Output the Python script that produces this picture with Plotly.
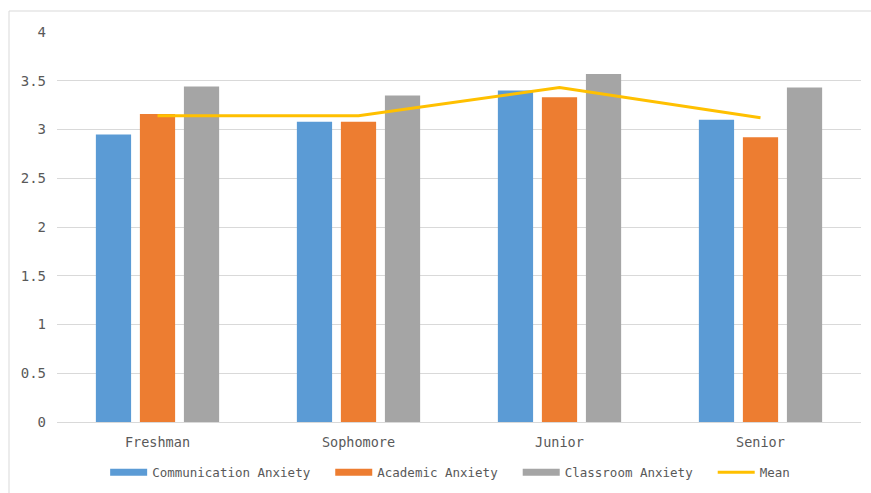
import plotly.graph_objects as go

categories = ["Freshman", "Sophomore", "Junior", "Senior"]
communication = [2.95, 3.08, 3.40, 3.10]
academic = [3.16, 3.08, 3.33, 2.92]
classroom = [3.44, 3.35, 3.57, 3.43]
mean_vals = [3.14, 3.14, 3.43, 3.12]

series_names = ["Communication Anxiety", "Academic Anxiety", "Classroom Anxiety"]
series_vals = [communication, academic, classroom]
colors = ["#5B9BD5", "#ED7D31", "#A5A5A5"]
mean_color = "#FFC000"

FONT = "DejaVu Sans Mono"
TXT = "#595959"
PAD = "\u00a0\u00a0"

fig = go.Figure()
for name, vals, c in zip(series_names, series_vals, colors):
    fig.add_trace(go.Bar(x=categories, y=vals, name=name, marker_color=c,
                         marker_line_width=0, showlegend=False))
fig.add_trace(go.Scatter(x=categories, y=mean_vals, mode="lines", name="Mean",
                         line=dict(color=mean_color, width=3), showlegend=False))
# legend entries
for name, c in zip(series_names, colors):
    fig.add_trace(go.Scatter(x=[None], y=[None], mode="lines", name=name + PAD,
                             line=dict(color=c, width=7)))
fig.add_trace(go.Scatter(x=[None], y=[None], mode="lines", name="Mean",
                         line=dict(color=mean_color, width=3)))

fig.update_layout(
    width=871, height=493,
    margin=dict(l=57, r=10, t=32, b=71, autoexpand=False),
    paper_bgcolor="white", plot_bgcolor="white",
    barmode="group", bargap=0.343, bargroupgap=0.2,
    font=dict(family=FONT, color=TXT, size=13),
    legend=dict(orientation="h", x=0.489, xanchor="center", y=-0.13, yanchor="middle",
                font=dict(family=FONT, size=12.5, color=TXT), itemwidth=37,
                traceorder="normal", tracegroupgap=0),
    xaxis=dict(showgrid=False, showline=True, linecolor="#D9D9D9", linewidth=1,
               tickfont=dict(family=FONT, size=13.5, color=TXT), ticks="",
               ticklabelstandoff=8),
    yaxis=dict(range=[0, 4], dtick=0.5, showgrid=True, gridcolor="#D9D9D9", gridwidth=1,
               zeroline=False, showline=False, ticks="",
               tickfont=dict(family=FONT, size=14, color=TXT), ticklabelstandoff=10),
    shapes=[dict(type="rect", xref="paper", yref="paper",
                 x0=(9 - 57) / 804, x1=1.2, y0=-0.2, y1=(422 - 11) / 390,
                 line=dict(color="#D9D9D9", width=1), layer="below")],
)

fig.write_html("out.html")
